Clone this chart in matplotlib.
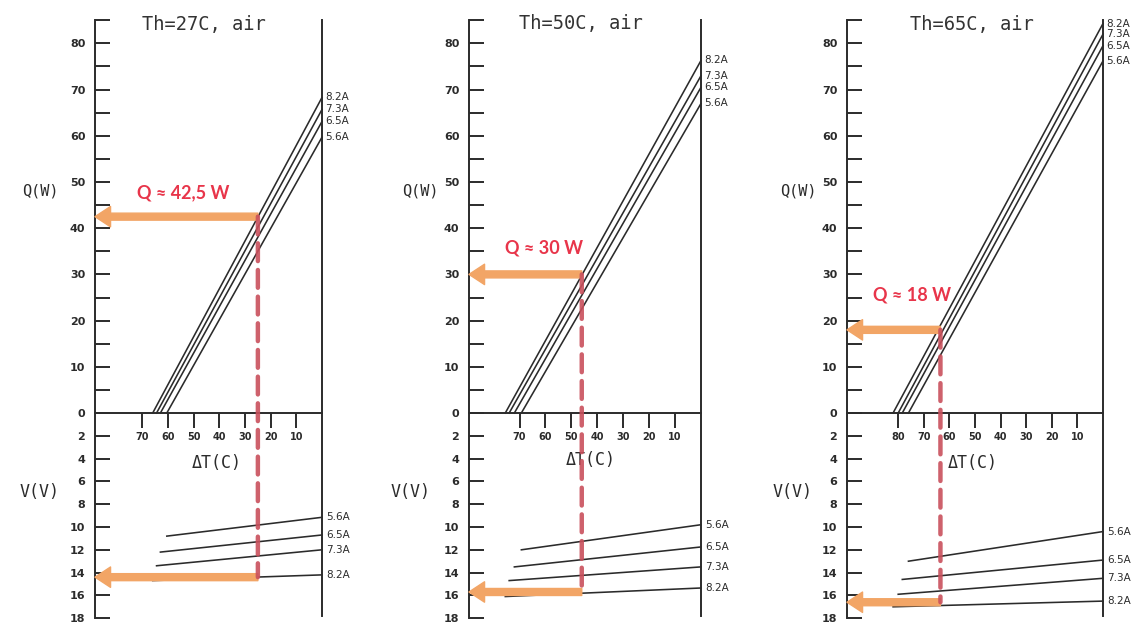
import matplotlib.pyplot as plt
from matplotlib.patches import ConnectionPatch

W, H = 1137, 623

titles = ["Th=27C, air", "Th=50C, air", "Th=65C, air"]
currents = ["8.2A", "7.3A", "6.5A", "5.6A"]

# Q-dT lines: each current runs from (dT_max, 0) to (0, Q_max)
dt_max = [
    [66.0, 64.5, 63.0, 60.5],
    [75.5, 74.0, 72.0, 69.3],
    [82.0, 80.0, 78.4, 76.0],
]
q_max = [
    [68.3, 65.7, 63.1, 59.7],
    [76.3, 73.0, 70.5, 67.0],
    [84.3, 82.0, 79.5, 76.2],
]
# V-dT lines: voltage at dT_max and at dT = 0
v_hot = [
    [14.7, 13.4, 12.2, 10.8],
    [16.1, 14.7, 13.5, 12.0],
    [17.0, 15.9, 14.6, 13.0],
]
v_cold = [
    [14.2, 12.0, 10.7, 9.15],
    [15.35, 13.5, 11.75, 9.8],
    [16.5, 14.5, 12.9, 10.4],
]
dt_ticks = [
    [70, 60, 50, 40, 30, 20, 10],
    [70, 60, 50, 40, 30, 20, 10],
    [80, 70, 60, 50, 40, 30, 20, 10],
]
# operating points
op_dt = [25.0, 46.0, 63.5]
op_q = [42.5, 30.0, 18.0]
op_v = [14.4, 15.7, 16.6]
op_text = ["Q \u2248 42,5 W", "Q \u2248 30 W", "Q \u2248 18 W"]

# layout (pixels) and scales
x_left = [95, 469, 847]
x_right = [322, 701, 1103]
dt_left = [88.5, 89.5, 100.0]
title_at = [(46.0, 84.0), (46.5, 84.3), (51.2, 84.0)]
text_at = [(54.2, 47.6), (60.4, 35.7), (74.6, 25.5)]
dtlabel_at = [(41.0, 4.4), (42.6, 4.1), (50.8, 4.4)]
qlabel_dx = [-55, -49, -49]
vlabel_dx = [-55, -58, -54]
Y0 = 413
Q_TOP, Q_PX = 89, 4.62
V_BOT, V_PX = 18.3, 11.4

INK = "#2b2b2b"
ORANGE = "#f2a566"
RED = "#c9505c"
RED_TEXT = "#e8354a"

fig = plt.figure(figsize=(W / 100, H / 100), dpi=100)
fig.patch.set_facecolor("white")

arrow_style = "simple,head_length=0.8,head_width=1.05,tail_width=0.36"

for i in range(3):
    x0, x1 = x_left[i], x_right[i]
    ax_q = fig.add_axes([x0 / W, (H - Y0) / H, (x1 - x0) / W, Q_TOP * Q_PX / H])
    ax_v = fig.add_axes([x0 / W, (H - Y0 - V_BOT * V_PX) / H, (x1 - x0) / W, V_BOT * V_PX / H])
    for ax in (ax_q, ax_v):
        ax.set_facecolor("none")
        ax.set_xlim(dt_left[i], 0)
        for side in ("left", "right", "top", "bottom"):
            ax.spines[side].set_color(INK)
            ax.spines[side].set_linewidth(1.4)
        ax.spines["top"].set_visible(False)
    ax_q.set_ylim(0, Q_TOP)
    ax_v.set_ylim(V_BOT, 0)
    ax_v.spines["bottom"].set_visible(False)
    ax_q.spines["left"].set_bounds(0, 85)
    ax_q.spines["right"].set_bounds(0, 85)
    ax_v.spines["left"].set_bounds(0, 18)
    ax_v.spines["right"].set_bounds(0, 17.8)

    # Q axis: ticks every 5 W, labels every 10 W
    ax_q.set_yticks(range(0, 81, 10))
    ax_q.set_yticks(range(5, 86, 10), minor=True)
    ax_q.tick_params(axis="y", which="both", direction="in", length=10.8, width=1.4,
                     color=INK, pad=7, labelsize=8, labelcolor=INK)
    for lab in ax_q.get_yticklabels():
        lab.set_fontweight("bold")
    ax_q.set_xticks(dt_ticks[i])
    ax_q.tick_params(axis="x", direction="out", length=10.8, width=1.4, color=INK,
                     pad=3, labelsize=7, labelcolor=INK)
    for lab in ax_q.get_xticklabels():
        lab.set_fontweight("bold")

    ax_v.set_yticks(range(2, 19, 2))
    ax_v.tick_params(axis="y", direction="in", length=10.8, width=1.4, color=INK,
                     pad=7, labelsize=8, labelcolor=INK)
    for lab in ax_v.get_yticklabels():
        lab.set_fontweight("bold")
    ax_v.set_xticks([])

    for k, cur in enumerate(currents):
        ax_q.plot([dt_max[i][k], 0], [0, q_max[i][k]], color=INK, lw=1.15, clip_on=False)
        ax_q.annotate(cur, xy=(0, q_max[i][k]), xytext=(3, 0), textcoords="offset pixels",
                      va="center", ha="left", fontsize=7.5, color=INK, annotation_clip=False)
        ax_v.plot([dt_max[i][k], 0], [v_hot[i][k], v_cold[i][k]], color=INK, lw=1.15, clip_on=False)
        ax_v.annotate(cur, xy=(0, v_cold[i][k]), xytext=(4, 0), textcoords="offset pixels",
                      va="center", ha="left", fontsize=7.5, color=INK, annotation_clip=False)

    # operating point: read Q and V at the chosen dT
    con = ConnectionPatch(xyA=(op_dt[i], op_q[i]), coordsA="data", axesA=ax_q,
                          xyB=(op_dt[i], op_v[i]), coordsB="data", axesB=ax_v,
                          color=RED, lw=3.2, linestyle=(0, (4, 2)), alpha=0.9,
                          shrinkA=0, shrinkB=0)
    fig.add_artist(con)
    ax_q.annotate("", xy=(dt_left[i], op_q[i]), xytext=(op_dt[i], op_q[i]),
                  arrowprops=dict(arrowstyle=arrow_style, color=ORANGE, mutation_scale=14,
                                  shrinkA=0, shrinkB=0), annotation_clip=False, zorder=5)
    ax_v.annotate("", xy=(dt_left[i], op_v[i]), xytext=(op_dt[i], op_v[i]),
                  arrowprops=dict(arrowstyle=arrow_style, color=ORANGE, mutation_scale=14,
                                  shrinkA=0, shrinkB=0), annotation_clip=False, zorder=5)
    ax_q.text(*text_at[i], op_text[i], ha="center", va="center", fontsize=13,
              fontweight="bold", color=RED_TEXT, family=["Lato", "DejaVu Sans"])

    ax_q.text(*title_at[i], titles[i], ha="center", va="center", fontsize=13.5,
              color="#333333", family="DejaVu Sans Mono", clip_on=False)
    ax_v.text(*dtlabel_at[i], "\u0394T(C)", ha="center", va="center", fontsize=12,
              color=INK, family="DejaVu Sans Mono")
    ax_q.annotate("Q(W)", xy=(0, 48), xycoords=("axes fraction", "data"),
                  xytext=(qlabel_dx[i], 0), textcoords="offset pixels",
                  ha="center", va="center", fontsize=11, color=INK, family="DejaVu Sans Mono")
    ax_v.annotate("V(V)", xy=(0, 6.9), xycoords=("axes fraction", "data"),
                  xytext=(vlabel_dx[i], 0), textcoords="offset pixels",
                  ha="center", va="center", fontsize=12, color=INK, family="DejaVu Sans Mono")

fig.savefig("out.png", dpi=100)
